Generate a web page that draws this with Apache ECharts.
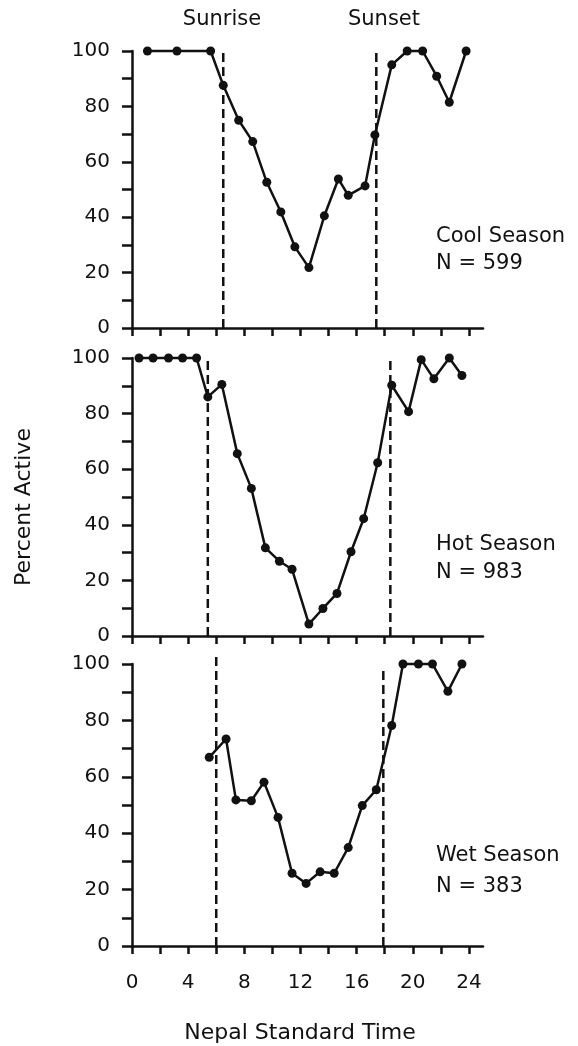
<!DOCTYPE html>
<html>
<head>
<meta charset="utf-8">
<script src="https://cdn.jsdelivr.net/npm/echarts@6/dist/echarts.min.js"></script>
<style>
  html, body { margin: 0; padding: 0; background: #fff; }
  #chart { width: 578px; height: 1046px; }
</style>
</head>
<body>
<div id="chart"></div>
<script>
// Hourly activity (percent of animals active) by season, Nepal Standard Time
const seasonNames = ['Cool Season', 'Hot Season', 'Wet Season'];
const sampleSizes = ['N = 599', 'N = 983', 'N = 383'];

const coolHours  = [1.1, 3.2, 5.6, 6.5, 7.6, 8.6, 9.6, 10.6, 11.6, 12.6, 13.7, 14.7, 15.4, 16.6, 17.3, 18.5, 19.6, 20.7, 21.7, 22.6, 23.8];
const coolActive = [100, 100, 100, 87.6, 75, 67.3, 52.6, 41.9, 29.3, 21.8, 40.5, 53.8, 47.9, 51.3, 69.7, 95, 100, 100, 90.9, 81.5, 100];

const hotHours  = [0.5, 1.5, 2.6, 3.6, 4.6, 5.4, 6.4, 7.5, 8.5, 9.5, 10.5, 11.4, 12.6, 13.6, 14.6, 15.6, 16.5, 17.5, 18.5, 19.7, 20.6, 21.5, 22.6, 23.5];
const hotActive = [100, 100, 100, 100, 100, 86, 90.5, 65.6, 53.1, 31.7, 26.9, 24, 4.3, 9.9, 15.3, 30.3, 42.2, 62.3, 90.2, 80.7, 99.4, 92.5, 100, 93.7];

const wetHours  = [5.5, 6.7, 7.4, 8.5, 9.4, 10.4, 11.4, 12.4, 13.4, 14.4, 15.4, 16.4, 17.4, 18.5, 19.3, 20.4, 21.4, 22.5, 23.5];
const wetActive = [66.9, 73.4, 51.8, 51.5, 58.1, 45.6, 25.8, 22.2, 26.3, 25.8, 34.9, 49.8, 55.4, 78.2, 100, 100, 100, 90.3, 100];

// Sunrise and sunset times for each season
const sunriseTimes = [6.5, 5.4, 6.0];
const sunsetTimes  = [17.4, 18.4, 17.9];

// Axis ticks
const xTicks = [0, 2, 4, 6, 8, 10, 12, 14, 16, 18, 20, 22, 24];
const xTickLabels = [0, 4, 8, 12, 16, 20, 24];
const yTickLabels = [0, 20, 40, 60, 80, 100];

const hours = [coolHours, hotHours, wetHours];
const active = [coolActive, hotActive, wetActive];

const FONT = 'DejaVu Sans';
const INK = '#111';

const panels = [
  { top: 51, height: 277, riseTop: 100, setTop: 101 },
  { top: 358, height: 278, riseTop: 100, setTop: 100 },
  { top: 664, height: 282, riseTop: 103, setTop: 99 }
];

const grids = [], xAxes = [], yAxes = [], series = [];

panels.forEach((p, i) => {
  grids.push({ left: 132, width: 351, top: p.top, height: p.height, containLabel: false });
  xAxes.push({
    gridIndex: i, type: 'value', min: 0, max: 25,
    axisLine: { show: true, lineStyle: { color: INK, width: 2.5 } },
    axisTick: { show: true, length: 8, customValues: xTicks, lineStyle: { color: INK, width: 2.5 } },
    axisLabel: { show: i === 2, customValues: xTickLabels, margin: 27, fontSize: 20, fontFamily: FONT, color: INK },
    splitLine: { show: false }
  });
  yAxes.push({
    gridIndex: i, type: 'value', min: 0, max: 100, interval: 10,
    axisLine: { show: true, lineStyle: { color: INK, width: 2.5 } },
    axisTick: { show: true, length: 10, lineStyle: { color: INK, width: 2.5 } },
    axisLabel: { customValues: yTickLabels, margin: 22, fontSize: 20, fontFamily: FONT, color: INK },
    splitLine: { show: false }
  });
  series.push({
    type: 'line', xAxisIndex: i, yAxisIndex: i, clip: false,
    data: hours[i].map((h, k) => [h, active[i][k]]),
    symbol: 'circle', symbolSize: 9,
    itemStyle: { color: INK },
    lineStyle: { color: INK, width: 2.5 },
    animation: false
  });
  // dashed verticals at sunrise and sunset
  [[sunriseTimes[i], p.riseTop], [sunsetTimes[i], p.setTop]].forEach(([t, topVal]) => {
    series.push({
      type: 'line', xAxisIndex: i, yAxisIndex: i, clip: false,
      data: [[t, 0], [t, topVal]],
      symbol: 'none',
      lineStyle: { color: INK, width: 2.5, type: [9, 5] },
      animation: false, silent: true
    });
  });
});

const textStyle = (size, extra) => Object.assign({ fontSize: size, fontFamily: FONT, fill: INK }, extra);

const labelY = [[237, 264], [545, 573], [856, 887]];
const graphics = [
  { type: 'text', x: 222, y: 20, style: textStyle(21, { text: 'Sunrise', align: 'center', verticalAlign: 'middle' }) },
  { type: 'text', x: 384, y: 20, style: textStyle(21, { text: 'Sunset', align: 'center', verticalAlign: 'middle' }) },
  { type: 'text', x: 24, y: 507, rotation: Math.PI / 2,
    style: textStyle(22, { text: 'Percent Active', align: 'center', verticalAlign: 'middle' }) },
  { type: 'text', x: 300, y: 1033,
    style: textStyle(22, { text: 'Nepal Standard Time', align: 'center', verticalAlign: 'middle' }) }
];
seasonNames.forEach((name, i) => {
  graphics.push({ type: 'text', x: 436, y: labelY[i][0], style: textStyle(21, { text: name, verticalAlign: 'middle' }) });
  graphics.push({ type: 'text', x: 436, y: labelY[i][1], style: textStyle(21, { text: sampleSizes[i], verticalAlign: 'middle' }) });
});

const chart = echarts.init(document.getElementById('chart'), null, { renderer: 'canvas' });
chart.setOption({
  backgroundColor: '#fff',
  animation: false,
  grid: grids,
  xAxis: xAxes,
  yAxis: yAxes,
  series: series,
  graphic: graphics
});
</script>
</body>
</html>
